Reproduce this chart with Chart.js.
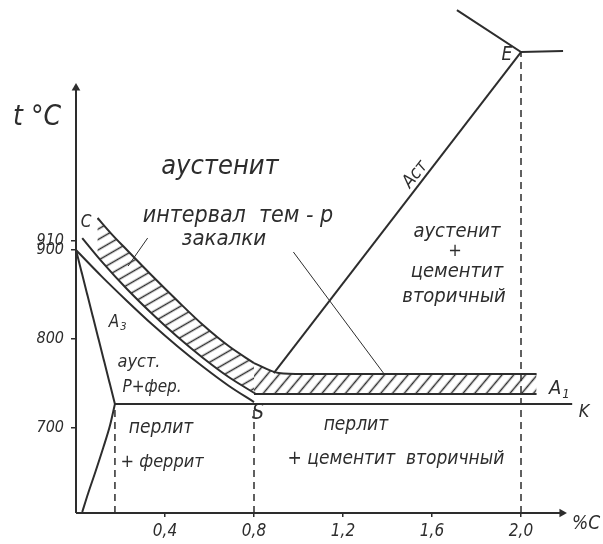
<!DOCTYPE html>
<html>
<head>
<meta charset="utf-8">
<script src="https://cdn.jsdelivr.net/npm/chart.js@4.4.1/dist/chart.umd.min.js"></script>
<style>
  html, body { margin: 0; padding: 0; background: #fff; }
  canvas { display: block; }
</style>
</head>
<body>
<canvas id="diagram" width="603" height="544"></canvas>
<script>
// ticks
const xTicks = [0.4, 0.8, 1.2, 1.6, 2.0];
const yTicks = [700, 800, 900, 910];

// lines of the diagram, [%C, t°C]
const lineGS = [[0, 900], [0.114, 870.7], [0.229, 842.8], [0.343, 816.3], [0.457, 791.7], [0.571, 768.8], [0.686, 747.5], [0.8, 729.2]];
const lineGP = [[0, 900], [0.175, 727]];
const lineA1 = [[0.175, 727], [2.23, 727]];
const linePQ = [[0.028, 605.6], [0.055, 627], [0.087, 650.6], [0.122, 677.5], [0.153, 703], [0.175, 727]];
const lineAcm = [[0.889, 761.8], [2.0, 1122.5]];
const lineE = [[1.712, 1169.7], [2.0, 1122.5], [2.189, 1123.6]];

// hardening interval band
const bandTopHypo = [[0.097, 936], [0.156, 919.1], [0.229, 900], [0.343, 870.8], [0.457, 842.7], [0.571, 815.7], [0.686, 792.1], [0.8, 773]];
const bandLowHypo = [[0.028, 913.5], [0.114, 887.6], [0.229, 856.2], [0.343, 828.1], [0.457, 802.2], [0.571, 778.7], [0.686, 757.3], [0.809, 738.2]];
const bandTopHyper = [[0.8, 773], [0.911, 761.8], [1.02, 760.7], [2.07, 760.7]];
const bandLowHyper = [[0.8, 738.2], [2.07, 738.2]];

// dashed verticals and leader lines
const dashP = [[0.175, 604.5], [0.175, 727]];
const dashS = [[0.8, 604.5], [0.8, 727]];
const dashE = [[2.0, 604.5], [2.0, 1122.5]];
const leader1 = [[0.322, 913.5], [0.234, 882]];
const leader2 = [[0.977, 897.8], [1.385, 760.7]];

// axes
const axisY = [[0, 604.5], [0, 1082]];
const axisX = [[0, 604.5], [2.184, 604.5]];

const ink = '#2d2d2d';
const hand = "'DejaVu Sans Condensed', 'Liberation Sans Narrow', 'DejaVu Sans', sans-serif";

const notes = [
  { t: 't °C', x: -0.175, y: 1049, s: 28 },
  { t: 'аустенит', x: 0.647, y: 993, s: 27 },
  { t: 'интервал  тем - р', x: 0.728, y: 938, s: 23 },
  { t: 'закалки', x: 0.665, y: 912, s: 22 },
  { t: 'C', x: 0.045, y: 931, s: 17 },
  { t: 'A', sub: '3', x: 0.171, y: 819, s: 17 },
  { t: 'ауст.', x: 0.283, y: 774, s: 18 },
  { t: 'P+фер.', x: 0.342, y: 745, s: 17 },
  { t: 'перлит', x: 0.382, y: 700, s: 19 },
  { t: '+ феррит', x: 0.387, y: 662, s: 18 },
  { t: 'S', x: 0.818, y: 716, s: 21 },
  { t: 'перлит', x: 1.258, y: 703, s: 19 },
  { t: '+ цементит  вторичный', x: 1.438, y: 665, s: 19 },
  { t: 'аустенит', x: 1.712, y: 920, s: 20 },
  { t: '+', x: 1.703, y: 899, s: 18 },
  { t: 'цементит', x: 1.712, y: 876, s: 20 },
  { t: 'вторичный', x: 1.699, y: 848, s: 20 },
  { t: 'Aст', x: 1.525, y: 985, s: 18, r: -52 },
  { t: 'E', x: 1.937, y: 1119, s: 19 },
  { t: 'A', sub: '1', x: 2.153, y: 744, s: 20 },
  { t: 'K', x: 2.283, y: 718, s: 18 },
  { t: '%C', x: 2.292, y: 592, s: 19 },
];

function pts(arr) {
  return arr.map(([x, y]) => ({ x, y }));
}

function hatch(spacing, angle) {
  const c = document.createElement('canvas');
  c.width = spacing;
  c.height = spacing;
  const g = c.getContext('2d');
  g.strokeStyle = ink;
  g.lineWidth = 1.5;
  g.beginPath();
  g.moveTo(spacing / 2, 0);
  g.lineTo(spacing / 2, spacing);
  g.stroke();
  const p = g.createPattern(c, 'repeat');
  p.setTransform(new DOMMatrix().rotate(angle));
  return p;
}

function line(data, extra = {}) {
  return {
    data: pts(data),
    showLine: true,
    borderColor: ink,
    borderWidth: 2,
    pointRadius: 0,
    fill: false,
    clip: false,
    ...extra,
  };
}

const curve = { cubicInterpolationMode: 'monotone' };
const dashed = { borderWidth: 1.5, borderDash: [7, 5] };

function noPadding(s) {
  s.paddingTop = 0;
  s.paddingBottom = 0;
  s.paddingLeft = 0;
  s.paddingRight = 0;
}

const notesPlugin = {
  id: 'notes',
  afterDatasetsDraw(chart) {
    const { ctx, scales: { x, y } } = chart;
    ctx.save();
    ctx.fillStyle = ink;
    ctx.textBaseline = 'middle';
    notes.forEach((n) => {
      const px = x.getPixelForValue(n.x);
      const py = y.getPixelForValue(n.y);
      ctx.save();
      ctx.translate(px, py);
      if (n.r) ctx.rotate((n.r * Math.PI) / 180);
      ctx.font = `italic ${n.s}px ${hand}`;
      ctx.textAlign = 'center';
      ctx.fillText(n.t, 0, 0);
      if (n.sub) {
        const w = ctx.measureText(n.t).width;
        ctx.font = `italic ${Math.round(n.s * 0.65)}px ${hand}`;
        ctx.textAlign = 'left';
        ctx.fillText(n.sub, w / 2 + 1, n.s * 0.3);
      }
      ctx.restore();
    });
    ctx.restore();
  },
};

new Chart(document.getElementById('diagram'), {
  type: 'scatter',
  data: {
    datasets: [
      line(bandTopHypo, curve),
      line(bandLowHypo, { ...curve, fill: '-1', backgroundColor: hatch(9, 60) }),
      line(bandTopHyper, curve),
      line(bandLowHyper, { fill: '-1', backgroundColor: hatch(9, 40) }),
      line(lineGS, curve),
      line(lineGP),
      line(lineA1),
      line(linePQ, curve),
      line(lineAcm),
      line(lineE),
      line(dashP, dashed),
      line(dashS, dashed),
      line(dashE, dashed),
      line(leader1, { borderWidth: 1 }),
      line(leader2, { borderWidth: 1 }),
      line(axisY, { pointRadius: [0, 5], pointStyle: 'triangle', pointRotation: 0, pointBackgroundColor: ink, pointBorderWidth: 0 }),
      line(axisX, { pointRadius: [0, 5], pointStyle: 'triangle', pointRotation: 90, pointBackgroundColor: ink, pointBorderWidth: 0 }),
    ],
  },
  options: {
    responsive: false,
    animation: false,
    devicePixelRatio: 1,
    layout: { padding: 0, autoPadding: false },
    plugins: { legend: { display: false }, tooltip: { enabled: false } },
    scales: {
      x: {
        type: 'linear',
        min: 0,
        max: 2.3685,
        afterFit: (s) => { s.height = 31; noPadding(s); },
        afterBuildTicks: (s) => { s.ticks = xTicks.map((v) => ({ value: v })); },
        border: { display: false },
        grid: { drawOnChartArea: false, drawTicks: true, tickLength: 4, color: ink, lineWidth: 1.5 },
        ticks: {
          autoSkip: false,
          maxRotation: 0,
          padding: 4,
          color: ink,
          font: { family: hand, size: 17, style: 'italic' },
          callback: (v) => v.toFixed(1).replace('.', ','),
        },
      },
      y: {
        type: 'linear',
        min: 604.5,
        max: 1181,
        afterFit: (s) => { s.width = 76; noPadding(s); },
        afterBuildTicks: (s) => { s.ticks = yTicks.map((v) => ({ value: v })); },
        border: { display: false },
        grid: { drawOnChartArea: false, drawTicks: true, tickLength: 5, color: ink, lineWidth: 1.5 },
        ticks: {
          autoSkip: false,
          padding: 7,
          color: ink,
          font: { family: hand, size: 16, style: 'italic' },
          callback: (v) => String(v),
        },
      },
    },
  },
  plugins: [notesPlugin],
});
</script>
</body>
</html>
